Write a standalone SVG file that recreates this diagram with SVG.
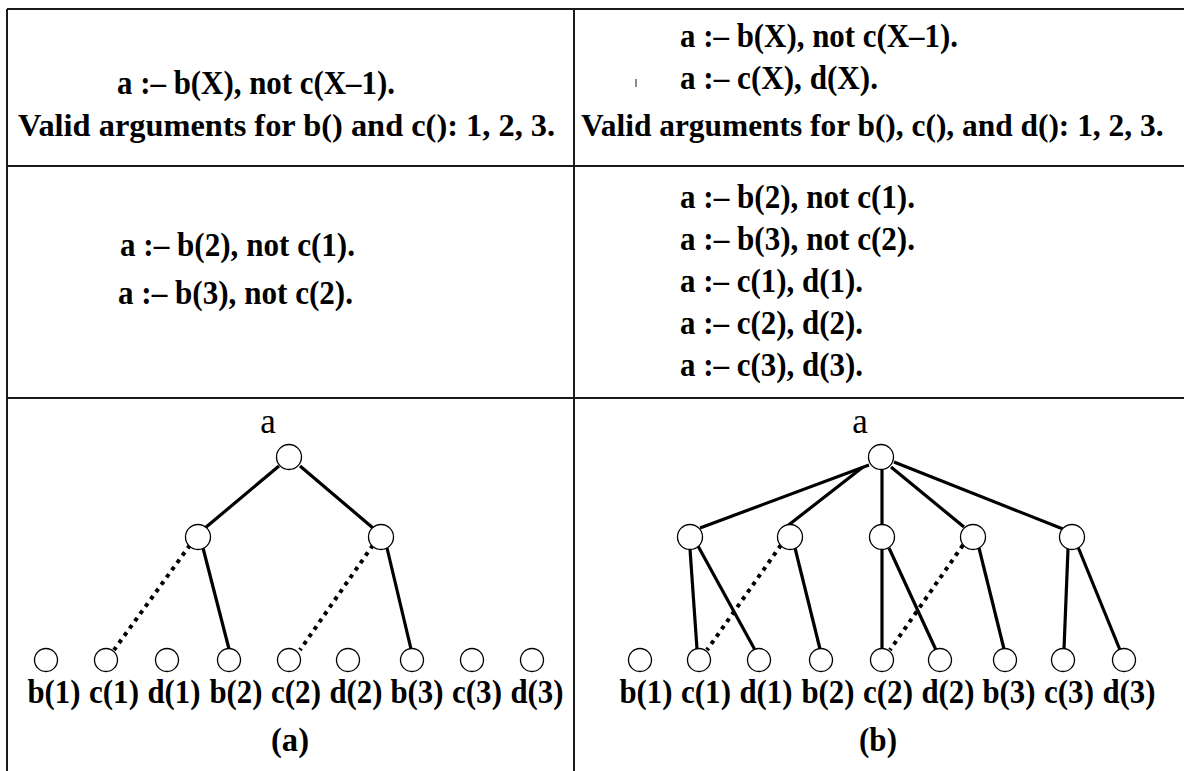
<svg xmlns="http://www.w3.org/2000/svg" width="1184" height="771" viewBox="0 0 1184 771">
<style>
.grid{stroke:#1a1a1a;stroke-width:2;fill:none}
.t{font-family:"Liberation Serif","Times New Roman",serif;font-weight:bold;font-size:34px;fill:#000}
.lbl{font-family:"Liberation Serif","Times New Roman",serif;font-weight:bold;font-size:34px;fill:#000;text-anchor:middle}
.root{font-family:"Liberation Serif","Times New Roman",serif;font-size:35px;fill:#000;text-anchor:middle}
.n{fill:#fff;stroke:#000;stroke-width:1.3}
.e{stroke:#000;stroke-width:3.2;fill:none}
.d{stroke:#000;stroke-width:4;fill:none;stroke-dasharray:4 5}
</style>
<rect width="1184" height="771" fill="#fff"/>
<g id="table">
<line class="grid" x1="7" y1="9" x2="1184" y2="9"/>
<line class="grid" x1="7" y1="9" x2="7" y2="771"/>
<line class="grid" x1="574" y1="9" x2="574" y2="771"/>
<line class="grid" x1="7" y1="166" x2="1184" y2="166"/>
<line class="grid" x1="7" y1="398" x2="1184" y2="398"/>
</g>
<g id="rules">
<text class="t" x="117" y="94" textLength="278" lengthAdjust="spacingAndGlyphs">a :– b(X), not c(X–1).</text>
<text class="t" x="18" y="136" style="font-size:32.4px">Valid arguments for b() and c(): 1, 2, 3.</text>
<text class="t" x="680" y="47" textLength="278" lengthAdjust="spacingAndGlyphs">a :– b(X), not c(X–1).</text>
<line x1="636" y1="79" x2="636" y2="87" stroke="#666" stroke-width="1.5"/>
<text class="t" x="680" y="89" textLength="198" lengthAdjust="spacingAndGlyphs">a :– c(X), d(X).</text>
<text class="t" x="581" y="136" style="font-size:31.4px">Valid arguments for b(), c(), and d(): 1, 2, 3.</text>
<text class="t" x="120" y="256" textLength="235" lengthAdjust="spacingAndGlyphs">a :– b(2), not c(1).</text>
<text class="t" x="118" y="304" textLength="235" lengthAdjust="spacingAndGlyphs">a :– b(3), not c(2).</text>
<text class="t" x="680" y="208" textLength="235" lengthAdjust="spacingAndGlyphs">a :– b(2), not c(1).</text>
<text class="t" x="680" y="250" textLength="235" lengthAdjust="spacingAndGlyphs">a :– b(3), not c(2).</text>
<text class="t" x="680" y="292" textLength="183" lengthAdjust="spacingAndGlyphs">a :– c(1), d(1).</text>
<text class="t" x="680" y="334" textLength="183" lengthAdjust="spacingAndGlyphs">a :– c(2), d(2).</text>
<text class="t" x="680" y="376" textLength="183" lengthAdjust="spacingAndGlyphs">a :– c(3), d(3).</text>
</g>
<g id="connectors">
<line class="e" x1="279" y1="466" x2="205" y2="528"/>
<line class="e" x1="300" y1="466" x2="373" y2="528"/>
<line class="e" x1="203" y1="548" x2="229" y2="649"/>
<line class="d" x1="190" y1="545" x2="114" y2="650"/>
<line class="e" x1="387" y1="548" x2="411" y2="649"/>
<line class="d" x1="373" y1="545" x2="300" y2="650"/>
<line class="e" x1="869" y1="465" x2="700" y2="528"/>
<line class="e" x1="863" y1="467" x2="786" y2="527"/>
<line class="e" x1="882" y1="469" x2="882" y2="525"/>
<line class="e" x1="891" y1="467" x2="964" y2="527"/>
<line class="e" x1="894" y1="462" x2="1063" y2="529"/>
<line class="e" x1="690" y1="549" x2="697" y2="649"/>
<line class="e" x1="698" y1="546" x2="755" y2="650"/>
<line class="d" x1="781" y1="545" x2="707" y2="650"/>
<line class="e" x1="795" y1="548" x2="820" y2="649"/>
<line class="e" x1="882" y1="549" x2="882" y2="649"/>
<line class="e" x1="889" y1="548" x2="936" y2="650"/>
<line class="d" x1="963" y1="545" x2="890" y2="650"/>
<line class="e" x1="979" y1="548" x2="1004" y2="649"/>
<line class="e" x1="1068" y1="549" x2="1064" y2="649"/>
<line class="e" x1="1078" y1="547" x2="1120" y2="650"/>
</g>
<g id="treeA">
<g id="a-root"><text class="root" x="268" y="433">a</text><circle class="n" cx="289" cy="457" r="12.5"/></g>
<g id="a-m1"><circle class="n" cx="198" cy="537" r="12.5"/></g>
<g id="a-m2"><circle class="n" cx="381" cy="537" r="12.5"/></g>
<g id="a-b1"><circle class="n" cx="46" cy="660" r="11.5"/><text class="lbl" x="54" y="703" textLength="53" lengthAdjust="spacingAndGlyphs">b(1)</text></g>
<g id="a-c1"><circle class="n" cx="106" cy="660" r="11.5"/><text class="lbl" x="114" y="703" textLength="50" lengthAdjust="spacingAndGlyphs">c(1)</text></g>
<g id="a-d1"><circle class="n" cx="167" cy="660" r="11.5"/><text class="lbl" x="174" y="703" textLength="53" lengthAdjust="spacingAndGlyphs">d(1)</text></g>
<g id="a-b2"><circle class="n" cx="229" cy="660" r="11.5"/><text class="lbl" x="236" y="703" textLength="53" lengthAdjust="spacingAndGlyphs">b(2)</text></g>
<g id="a-c2"><circle class="n" cx="289" cy="660" r="11.5"/><text class="lbl" x="296" y="703" textLength="50" lengthAdjust="spacingAndGlyphs">c(2)</text></g>
<g id="a-d2"><circle class="n" cx="348" cy="660" r="11.5"/><text class="lbl" x="356" y="703" textLength="53" lengthAdjust="spacingAndGlyphs">d(2)</text></g>
<g id="a-b3"><circle class="n" cx="412" cy="660" r="11.5"/><text class="lbl" x="417" y="703" textLength="53" lengthAdjust="spacingAndGlyphs">b(3)</text></g>
<g id="a-c3"><circle class="n" cx="472" cy="660" r="11.5"/><text class="lbl" x="477" y="703" textLength="50" lengthAdjust="spacingAndGlyphs">c(3)</text></g>
<g id="a-d3"><circle class="n" cx="532" cy="660" r="11.5"/><text class="lbl" x="537" y="703" textLength="53" lengthAdjust="spacingAndGlyphs">d(3)</text></g>
<text class="lbl" x="290" y="751" textLength="38" lengthAdjust="spacingAndGlyphs">(a)</text>
</g>
<g id="treeB">
<g id="b-root"><text class="root" x="860" y="433">a</text><circle class="n" cx="881" cy="457" r="12.5"/></g>
<g id="b-m1"><circle class="n" cx="690" cy="537" r="12.5"/></g>
<g id="b-m2"><circle class="n" cx="790" cy="537" r="12.5"/></g>
<g id="b-m3"><circle class="n" cx="882" cy="537" r="12.5"/></g>
<g id="b-m4"><circle class="n" cx="973" cy="537" r="12.5"/></g>
<g id="b-m5"><circle class="n" cx="1072" cy="537" r="12.5"/></g>
<g id="b-b1"><circle class="n" cx="640" cy="660" r="11.5"/><text class="lbl" x="646" y="703" textLength="53" lengthAdjust="spacingAndGlyphs">b(1)</text></g>
<g id="b-c1"><circle class="n" cx="699" cy="660" r="11.5"/><text class="lbl" x="706" y="703" textLength="50" lengthAdjust="spacingAndGlyphs">c(1)</text></g>
<g id="b-d1"><circle class="n" cx="759" cy="660" r="11.5"/><text class="lbl" x="766" y="703" textLength="53" lengthAdjust="spacingAndGlyphs">d(1)</text></g>
<g id="b-b2"><circle class="n" cx="821" cy="660" r="11.5"/><text class="lbl" x="828" y="703" textLength="53" lengthAdjust="spacingAndGlyphs">b(2)</text></g>
<g id="b-c2"><circle class="n" cx="882" cy="660" r="11.5"/><text class="lbl" x="888" y="703" textLength="50" lengthAdjust="spacingAndGlyphs">c(2)</text></g>
<g id="b-d2"><circle class="n" cx="940" cy="660" r="11.5"/><text class="lbl" x="948" y="703" textLength="53" lengthAdjust="spacingAndGlyphs">d(2)</text></g>
<g id="b-b3"><circle class="n" cx="1005" cy="660" r="11.5"/><text class="lbl" x="1009" y="703" textLength="53" lengthAdjust="spacingAndGlyphs">b(3)</text></g>
<g id="b-c3"><circle class="n" cx="1063" cy="660" r="11.5"/><text class="lbl" x="1069" y="703" textLength="50" lengthAdjust="spacingAndGlyphs">c(3)</text></g>
<g id="b-d3"><circle class="n" cx="1124" cy="660" r="11.5"/><text class="lbl" x="1129" y="703" textLength="53" lengthAdjust="spacingAndGlyphs">d(3)</text></g>
<text class="lbl" x="878" y="751" textLength="38" lengthAdjust="spacingAndGlyphs">(b)</text>
</g>
</svg>
